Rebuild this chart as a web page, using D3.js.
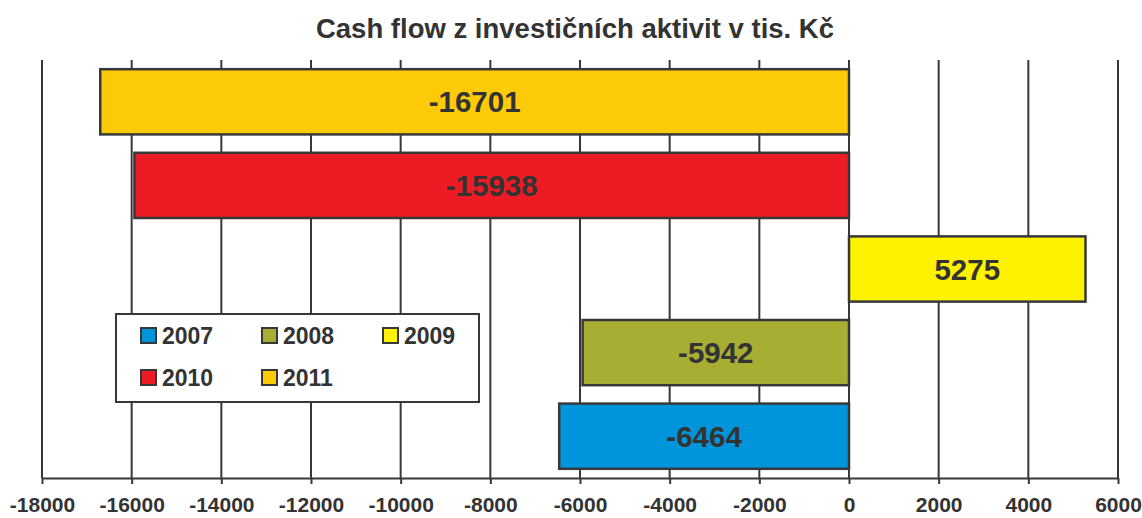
<!DOCTYPE html>
<html>
<head>
<meta charset="utf-8">
<script src="https://cdn.jsdelivr.net/npm/d3@7"></script>
<style>
	body { margin: 0; background: #fff; }
	svg text { font-family: "Liberation Sans", Arial, sans-serif; font-weight: bold; fill: #333; }
</style>
</head>
<body>
<div id="chart"></div>
<script>
var years = ["2011", "2010", "2009", "2008", "2007"],
	values = [-16701, -15938, 5275, -5942, -6464],
	colors = ["#fdca08", "#ed1c24", "#fff200", "#a8ae34", "#0095da"],
	tickValues = d3.range(-18000, 6001, 2000),
	legendOrder = ["2007", "2008", "2009", "2010", "2011"];

var width = 1142,
	height = 518,
	margin = {top: 60, right: 24, bottom: 40, left: 42},
	ink = "#38383a";

var svg = d3.select("#chart").append("svg")
	.attr("width", width)
	.attr("height", height);

var x = d3.scaleLinear()
	.domain([-18000, 6000])
	.range([margin.left, width - margin.right]);

var y = d3.scaleBand()
	.domain(years)
	.range([margin.top, height - margin.bottom])
	.paddingInner(0.22)
	.paddingOuter(0.11);

// title
svg.append("text")
	.attr("x", 575)
	.attr("y", 38)
	.attr("text-anchor", "middle")
	.style("font-size", "27.5px")
	.text("Cash flow z investičních aktivit v tis. Kč");

// vertical grid
svg.append("g")
	.selectAll("line")
	.data(tickValues).enter().append("line")
	.attr("x1", function (d) { return x(d); })
	.attr("x2", function (d) { return x(d); })
	.attr("y1", margin.top)
	.attr("y2", height - margin.bottom)
	.attr("stroke", ink)
	.attr("stroke-width", 2);

// x axis, plain hyphen for the minus sign like the original
var axis = svg.append("g")
	.attr("transform", "translate(0," + (height - margin.bottom) + ")")
	.call(d3.axisBottom(x)
		.tickValues(tickValues)
		.tickSize(6)
		.tickSizeOuter(0)
		.tickPadding(13)
		.tickFormat(function (d) { return String(d); }));
axis.select(".domain").attr("stroke", ink).attr("stroke-width", 2);
axis.selectAll(".tick line").attr("stroke", ink).attr("stroke-width", 2);
axis.selectAll(".tick text")
	.style("font-size", "21px")
	.style("font-family", "Liberation Sans, Arial, sans-serif")
	.style("font-weight", "bold")
	.attr("fill", "#333");

// bars
var bars = svg.append("g")
	.selectAll("g.bar")
	.data(years).enter().append("g")
	.attr("class", "bar");

bars.append("rect")
	.attr("x", function (d, i) { return Math.min(x(0), x(values[i])); })
	.attr("y", function (d) { return y(d); })
	.attr("width", function (d, i) { return Math.abs(x(values[i]) - x(0)); })
	.attr("height", y.bandwidth())
	.attr("fill", function (d, i) { return colors[i]; })
	.attr("stroke", ink)
	.attr("stroke-width", 2.5);

bars.append("text")
	.attr("x", function (d, i) { return (x(0) + x(values[i])) / 2; })
	.attr("y", function (d) { return y(d) + y.bandwidth() / 2; })
	.attr("dy", "0.36em")
	.attr("text-anchor", "middle")
	.style("font-size", "29.5px")
	.text(function (d, i) { return values[i]; });

// legend
var legend = svg.append("g").attr("transform", "translate(116,314)");
legend.append("rect")
	.attr("width", 363)
	.attr("height", 88)
	.attr("fill", "#fff")
	.attr("stroke", ink)
	.attr("stroke-width", 2);

var items = legend.selectAll("g.item")
	.data(legendOrder).enter().append("g")
	.attr("class", "item")
	.attr("transform", function (d, i) {
		return "translate(" + (25 + (i % 3) * 121) + "," + (14 + Math.floor(i / 3) * 42) + ")";
	});

items.append("rect")
	.attr("width", 15)
	.attr("height", 15)
	.attr("fill", function (d) { return colors[years.indexOf(d)]; })
	.attr("stroke", ink)
	.attr("stroke-width", 2);

items.append("text")
	.attr("x", 21)
	.attr("y", 8)
	.attr("dy", "0.36em")
	.style("font-size", "23px")
	.text(function (d) { return d; });
</script>
</body>
</html>
